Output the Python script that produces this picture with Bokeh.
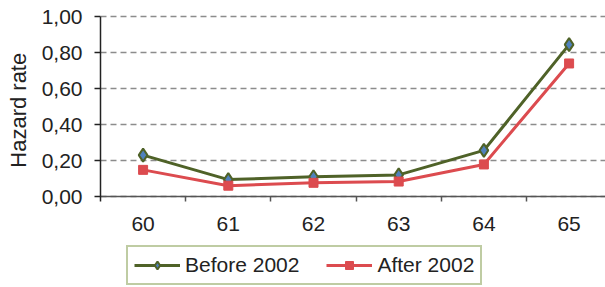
from bokeh.plotting import figure
from bokeh.models import (Range1d, FixedTicker, Legend, LegendItem, CustomJSTickFormatter)
from bokeh.embed import file_html
from bokeh.resources import INLINE

ages = [60, 61, 62, 63, 64, 65]
before_2002 = [0.23, 0.094, 0.11, 0.12, 0.256, 0.844]
after_2002 = [0.148, 0.06, 0.076, 0.083, 0.178, 0.739]
y_ticks = [0.0, 0.2, 0.4, 0.6, 0.8, 1.0]
series_names = ["Before 2002", "After 2002"]
y_title = "Hazard rate"

GREEN = "#4F6228"
BLUE = "#4F81BD"
RED = "#DC4B4F"
FONT = "Liberation Sans"

PX = 180.0  # pixels per unit on y
p = figure(width=605, height=287, output_backend="svg", toolbar_location=None,
           x_range=Range1d(ages[0] - 0.5, ages[0] - 0.5 + 505 / 85.2),
           y_range=Range1d(-91 / PX, 184 / PX),
           min_border_left=100, min_border_right=0, min_border_top=12, min_border_bottom=0)
p.outline_line_color = None
p.background_fill_color = "white"
p.border_fill_color = "white"

# grid
p.xgrid.grid_line_color = None
p.ygrid.grid_line_color = "#8C8C8C"
p.ygrid.grid_line_dash = "6 4"
p.ygrid.grid_line_width = 1.5

# x axis pinned at y = 0
p.xaxis.fixed_location = 0
p.xaxis.ticker = FixedTicker(ticks=ages, minor_ticks=[a + 0.5 for a in ages[:-1]])
p.xaxis.major_tick_line_color = None
p.xaxis.major_tick_out = 0
p.xaxis.major_tick_in = 0
p.xaxis.minor_tick_line_color = "#555555"
p.xaxis.minor_tick_line_width = 1.5
p.xaxis.minor_tick_out = 5
p.xaxis.minor_tick_in = 0
p.xaxis.axis_line_color = "#555555"
p.xaxis.axis_line_width = 1.5
p.xaxis.major_label_text_font = FONT
p.xaxis.major_label_text_font_size = "21px"
p.xaxis.major_label_text_color = "#222222"
p.xaxis.major_label_standoff = 15

p.yaxis.ticker = FixedTicker(ticks=y_ticks, minor_ticks=[])
p.yaxis.bounds = (-0.025, 1.0)
p.yaxis.formatter = CustomJSTickFormatter(code="return tick.toFixed(2).replace('.', ',');")
p.yaxis.axis_line_color = "#222222"
p.yaxis.axis_line_width = 1.5
p.yaxis.major_tick_line_color = "#222222"
p.yaxis.major_tick_line_width = 1.5
p.yaxis.major_tick_out = 6
p.yaxis.major_tick_in = 0
p.yaxis.minor_tick_line_color = None
p.yaxis.major_label_text_font = FONT
p.yaxis.major_label_text_font_size = "21px"
p.yaxis.major_label_text_color = "#222222"
p.yaxis.major_label_standoff = 12
# leading no-break spaces lift the centred title to the middle of the 0..1 span
p.yaxis.axis_label = "\u00a0" * 13 + y_title
p.yaxis.axis_label_text_font = FONT
p.yaxis.axis_label_text_font_size = "22px"
p.yaxis.axis_label_text_font_style = "normal"
p.yaxis.axis_label_text_color = "#222222"
p.yaxis.axis_label_standoff = 8

# series
l1 = p.line(ages, before_2002, line_color=GREEN, line_width=3)
m1 = p.scatter(ages, before_2002, marker="diamond", size=13, fill_color=BLUE,
               line_color=GREEN, line_width=2)
l2 = p.line(ages, after_2002, line_color=RED, line_width=3)
m2 = p.scatter(ages, after_2002, marker="square", size=9, fill_color=RED,
               line_color=RED, line_width=1)

legend = Legend(items=[LegendItem(label=series_names[0], renderers=[l1, m1]),
                       LegendItem(label=series_names[1], renderers=[l2, m2])],
                orientation="horizontal", location=(26, 2))
legend.border_line_color = "#7F9A48"
legend.border_line_width = 2
legend.label_text_font = FONT
legend.label_text_font_size = "21px"
legend.label_text_color = "#222222"
legend.glyph_width = 46
legend.glyph_height = 20
legend.label_standoff = 5
legend.spacing = 27
legend.padding = 6
legend.margin = 0
legend.background_fill_color = "white"
p.add_layout(legend, "center")

open("out.html", "w").write(file_html(p, INLINE))
